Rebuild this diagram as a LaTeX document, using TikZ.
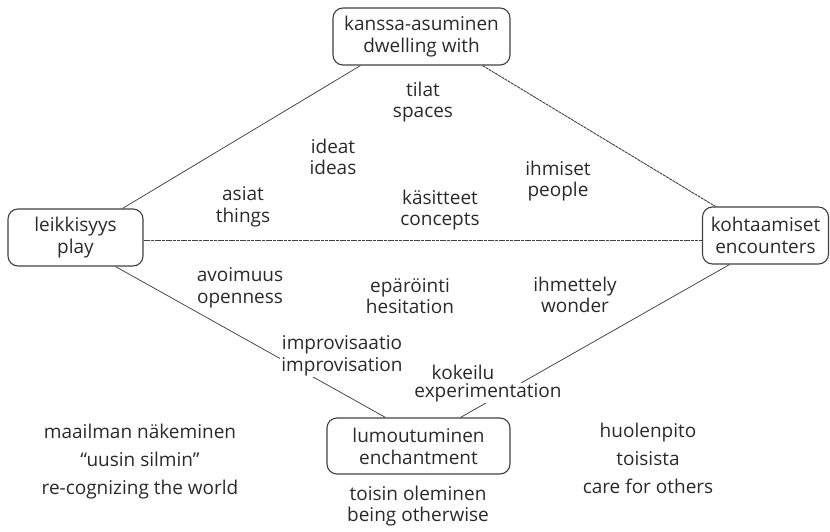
\documentclass[tikz,border=0pt]{standalone}
\usepackage{fontspec}
\setmainfont{Open Sans}
\usetikzlibrary{calc}
\definecolor{ink}{HTML}{2A2A2A}
\definecolor{edge}{HTML}{404040}
\tikzset{
  concept/.style={draw=edge, line width=1.1pt, rounded corners=10pt, align=center,
    text=ink, font=\fontsize{19}{22}\selectfont, inner sep=0pt},
  lbl/.style={align=center, text=ink, font=\fontsize{19}{21.5}\selectfont, inner sep=1pt},
  biglbl/.style={align=center, text=ink, font=\fontsize{19}{28}\selectfont, inner sep=1pt},
  link/.style={draw=edge, line width=0.75pt},
  dlink/.style={draw=edge, line width=0.9pt, dash pattern=on 3pt off 0.7pt},
}
\begin{document}
\begin{tikzpicture}[x=1pt,y=-1pt]
\useasboundingbox (0,0) rectangle (830,532);
% concept boxes
\node[concept, minimum width=177pt, minimum height=57pt] (dwelling) at (421.5,36.5) {kanssa-asuminen\\dwelling with};
\node[concept, minimum width=135pt, minimum height=57pt] (play) at (75.5,237.5) {leikkisyys\\play};
\node[concept, minimum width=126pt, minimum height=57pt] (encounters) at (765.5,235.5) {kohtaamiset\\encounters};
\node[concept, minimum width=183pt, minimum height=56pt] (enchant) at (418.5,446) {lumoutuminen\\enchantment};
% connectors
\draw[link] ($(play.north)+(47,0)$) -- ($(dwelling.south)+(-61,0)$);
\draw[dlink] ($(dwelling.south)+(61,0)$) -- ($(encounters.north)+(-50,0)$);
\draw[dlink] ($(play.east)+(0,2.5)$) -- ($(encounters.west)+(0,4.5)$);
\draw[link] ($(play.south)+(40,0)$) -- ($(enchant.north)+(-33,0)$);
\draw[link] ($(encounters.south)+(-36,0)$) -- ($(enchant.north)+(42,0)$);
% labels
\node[lbl] (spaces) at (423,102) {tilat\\spaces};
\node[lbl] (ideas) at (333,157) {ideat\\ideas};
\node[lbl] (things) at (243,207) {asiat\\things};
\node[lbl] (concepts) at (440,210) {käsitteet\\concepts};
\node[lbl] (people) at (558,181) {ihmiset\\people};
\node[lbl] (openness) at (240,288) {avoimuus\\openness};
\node[lbl] (hesitation) at (410,296) {epäröinti\\hesitation};
\node[lbl] (wonder) at (575,295) {ihmettely\\wonder};
\node[lbl, fill=white] (improv) at (342,356) {improvisaatio\\improvisation};
\node[lbl, fill=white] (kokeilu) at (463,372) {kokeilu};
\node[lbl, fill=white] (experim) at (488,393) {experimentation};
\node[biglbl] (world) at (140,462) {maailman näkeminen\\“uusin silmin”\\re-cognizing the world};
\node[biglbl] (care) at (648,458) {huolenpito\\toisista\\care for others};
\node[lbl] (otherwise) at (418,506) {toisin oleminen\\being otherwise};
\end{tikzpicture}
\end{document}
